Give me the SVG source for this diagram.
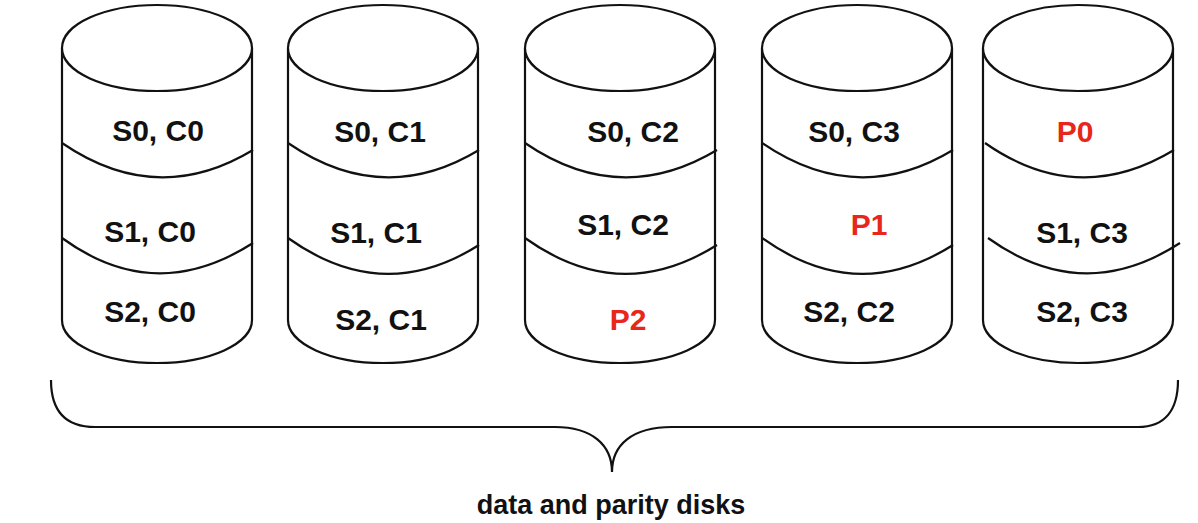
<svg xmlns="http://www.w3.org/2000/svg" width="1198" height="523" viewBox="0 0 1198 523">
<style>
.cyl{fill:#fff;stroke:#111;stroke-width:2.2}
.ln{fill:none;stroke:#111;stroke-width:2.2}
.t{font-family:"Liberation Sans",Arial,sans-serif;font-weight:bold;font-size:30px;fill:#111;text-anchor:middle}
.p{fill:#e8261b}
.cap{font-family:"Liberation Sans",Arial,sans-serif;font-weight:bold;font-size:27px;fill:#111;text-anchor:middle}
</style>
<rect width="1198" height="523" fill="#fff"/>
<g id="disk0">
<path class="cyl" d="M62,48 L62,320 A95,43 0 0 0 252,320 L252,48"/>
<ellipse class="cyl" cx="157" cy="48" rx="95" ry="43"/>
<path class="ln" d="M62,143 Q157,208 253,150"/>
<path class="ln" d="M62,238 Q155,306 253,243"/>
<text class="t" x="158" y="141">S0, C0</text>
<text class="t" x="150" y="242">S1, C0</text>
<text class="t" x="150" y="322">S2, C0</text>
</g>
<g id="disk1">
<path class="cyl" d="M288,48 L288,320 A95,43 0 0 0 478,320 L478,48"/>
<ellipse class="cyl" cx="383" cy="48" rx="95" ry="43"/>
<path class="ln" d="M288,143 Q383,208 479,150"/>
<path class="ln" d="M288,238 Q383,306 479,245"/>
<text class="t" x="380" y="142">S0, C1</text>
<text class="t" x="376" y="243">S1, C1</text>
<text class="t" x="381" y="330">S2, C1</text>
</g>
<g id="disk2">
<path class="cyl" d="M525,48 L525,320 A95,43 0 0 0 715,320 L715,48"/>
<ellipse class="cyl" cx="620" cy="48" rx="95" ry="43"/>
<path class="ln" d="M525,143 Q620,208 717,150"/>
<path class="ln" d="M525,238 Q620,306 717,245"/>
<text class="t" x="633" y="142">S0, C2</text>
<text class="t" x="623" y="235">S1, C2</text>
<text class="t p" x="628" y="330">P2</text>
</g>
<g id="disk3">
<path class="cyl" d="M762,48 L762,320 A95,43 0 0 0 952,320 L952,48"/>
<ellipse class="cyl" cx="857" cy="48" rx="95" ry="43"/>
<path class="ln" d="M762,143 Q857,208 953,150"/>
<path class="ln" d="M762,238 Q857,306 953,245"/>
<text class="t" x="854" y="142">S0, C3</text>
<text class="t p" x="869" y="235">P1</text>
<text class="t" x="849" y="322">S2, C2</text>
</g>
<g id="disk4">
<path class="cyl" d="M983,48 L983,320 A95,43 0 0 0 1173,320 L1173,48"/>
<ellipse class="cyl" cx="1078" cy="48" rx="95" ry="43"/>
<path class="ln" d="M985,143 Q1078,208 1174,150"/>
<path class="ln" d="M988,238 Q1083,306 1180,243"/>
<text class="t p" x="1075" y="142">P0</text>
<text class="t" x="1082" y="243">S1, C3</text>
<text class="t" x="1082" y="322">S2, C3</text>
</g>
<g id="brace">
<path class="ln" d="M51,380 C51,410 65,427 95,427 L555,427 C592,427 612,445 612,472 C612,445 632,427 672,427 L1138,427 C1165,427 1178,410 1178,380"/>
<text class="cap" x="611" y="514">data and parity disks</text>
</g>
</svg>
